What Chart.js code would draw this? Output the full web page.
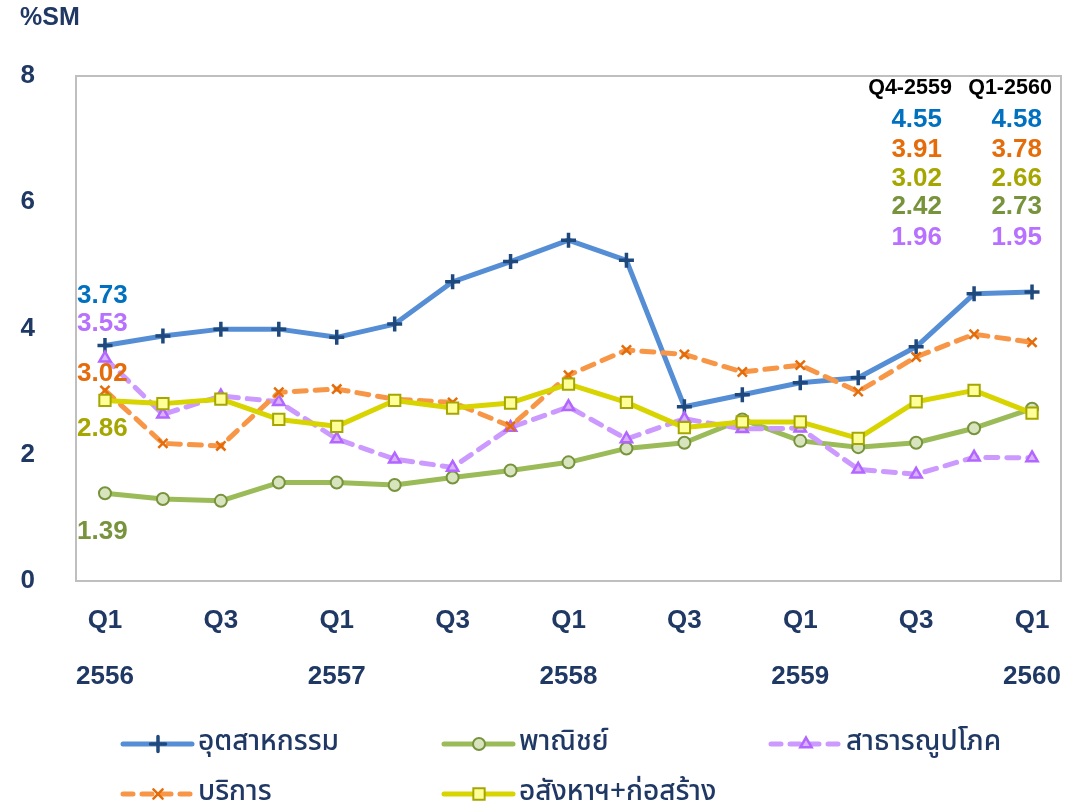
<!DOCTYPE html>
<html>
<head>
<meta charset="utf-8">
<title>%SM</title>
<script src="https://cdn.jsdelivr.net/npm/chart.js@4.4.1/dist/chart.umd.min.js"></script>
<style>
  body { margin: 0; background: #fff; }
  #wrap { width: 1091px; height: 807px; }
</style>
</head>
<body>
<div id="wrap"><canvas id="smChart" width="1091" height="807"></canvas></div>
<script>
// quarters Q1-2556 .. Q1-2560
const quarters = ['Q1','Q2','Q3','Q4','Q1','Q2','Q3','Q4','Q1','Q2','Q3','Q4','Q1','Q2','Q3','Q4','Q1'];
const years    = ['2556','','','','2557','','','','2558','','','','2559','','','','2560'];
const yTicks   = [0, 2, 4, 6, 8];

// %SM by sector
const industry  = [3.73,3.88,3.99,3.99,3.86,4.07,4.74,5.06,5.40,5.08,2.76,2.95,3.14,3.22,3.71,4.55,4.58];
const commerce  = [1.39,1.30,1.27,1.56,1.56,1.52,1.64,1.75,1.88,2.10,2.19,2.56,2.22,2.12,2.19,2.42,2.73];
const utilities = [3.53,2.64,2.93,2.84,2.25,1.93,1.80,2.43,2.76,2.25,2.57,2.41,2.42,1.77,1.69,1.96,1.95];
const services  = [3.02,2.18,2.14,2.99,3.04,2.88,2.83,2.45,3.26,3.66,3.59,3.31,3.42,3.00,3.55,3.91,3.78];
const property  = [2.86,2.81,2.88,2.56,2.45,2.86,2.74,2.82,3.12,2.83,2.43,2.52,2.52,2.26,2.84,3.02,2.66];

const tableHeads = ['Q4-2559', 'Q1-2560'];

const navy = '#1F3864';
const fontArial = "'Liberation Sans', Arial, sans-serif";
const fontThai = "'Noto Sans Thai', Tahoma, 'Noto Sans', sans-serif";

const datasets = [{
    label: 'อุตสาหกรรม', data: industry, order: 4,
    borderColor: '#558ED5', borderWidth: 5,
    pointStyle: 'cross', pointRadius: 7.5, pointBorderWidth: 3.5,
    pointBorderColor: '#1F497D', pointBackgroundColor: '#1F497D',
    textColor: '#0070C0'
  }, {
    label: 'พาณิชย์', data: commerce, order: 3,
    borderColor: '#9BBB59', borderWidth: 5,
    pointStyle: 'circle', pointRadius: 6, pointBorderWidth: 2,
    pointBorderColor: '#77933C', pointBackgroundColor: '#D7E4BD',
    textColor: '#77933C'
  }, {
    label: 'สาธารณูปโภค', data: utilities, order: 2,
    borderColor: '#CC99FF', borderWidth: 5, borderDash: [12, 9],
    pointStyle: 'triangle', pointRadius: 6.5, pointBorderWidth: 2.5,
    pointBorderColor: '#B266FF', pointBackgroundColor: '#D9B3FF',
    textColor: '#B870FF'
  }, {
    label: 'บริการ', data: services, order: 1,
    borderColor: '#F79646', borderWidth: 5, borderDash: [12, 9],
    pointStyle: 'crossRot', pointRadius: 6.5, pointBorderWidth: 2.5,
    pointBorderColor: '#E46C0A', pointBackgroundColor: '#FCD5B5',
    textColor: '#E46C0A'
  }, {
    label: 'อสังหาฯ+ก่อสร้าง', data: property, order: 0,
    borderColor: '#D8D400', borderWidth: 5,
    pointStyle: 'rect', pointRadius: 8, pointBorderWidth: 2,
    pointBorderColor: '#A6A600', pointBackgroundColor: '#FFFF99',
    textColor: '#A6A600'
  }];
datasets.forEach(d => { d.fill = false; d.tension = 0; d.borderCapStyle = 'round'; d.borderJoinStyle = 'round'; });

// frame around plot area
const framePlugin = {
  id: 'frame',
  beforeDatasetsDraw(chart) {
    const a = chart.chartArea, ctx = chart.ctx;
    ctx.save();
    ctx.strokeStyle = '#BFBFBF';
    ctx.lineWidth = 2;
    ctx.strokeRect(a.left, a.top, a.right - a.left, a.bottom - a.top);
    ctx.restore();
  }
};

// first-value labels and the small table at the top right
// offsets per dataset: industry, commerce, utilities, services, property
const labelOffsets = [-50, 39, -34, -17, 28];
const tableRows = [0, 3, 4, 1, 2];
const rowOffsets = [44, 74, 103, 131, 162];
const labelsPlugin = {
  id: 'valueLabels',
  afterDatasetsDraw(chart) {
    const ctx = chart.ctx, a = chart.chartArea;
    const ys = chart.scales.y;
    ctx.save();
    ctx.font = 'bold 26px ' + fontArial;
    ctx.textBaseline = 'middle';
    ctx.textAlign = 'left';
    chart.data.datasets.forEach((d, i) => {
      ctx.fillStyle = d.textColor;
      ctx.fillText(d.data[0].toFixed(2), a.left + 1, ys.getPixelForValue(d.data[0]) + labelOffsets[i]);
    });
    // header
    ctx.font = 'bold 21.5px ' + fontArial;
    ctx.fillStyle = '#000';
    ctx.textAlign = 'center';
    ctx.fillText(tableHeads[0], a.right - 151, a.top + 12);
    ctx.fillText(tableHeads[1], a.right - 51, a.top + 12);
    ctx.font = 'bold 26px ' + fontArial;
    ctx.textAlign = 'right';
    const n = quarters.length;
    tableRows.forEach((di, r) => {
      const d = chart.data.datasets[di];
      ctx.fillStyle = d.textColor;
      ctx.fillText(d.data[n - 2].toFixed(2), a.right - 119, a.top + rowOffsets[r]);
      ctx.fillText(d.data[n - 1].toFixed(2), a.right - 19, a.top + rowOffsets[r]);
    });
    ctx.restore();
  }
};

// legend with line + marker, laid out in a fixed grid
const legendPlugin = {
  id: 'gridLegend',
  afterDraw(chart) {
    const ctx = chart.ctx;
    const cols = [120, 441, 768];
    const rows = [744, 794];
    const lineLen = 72;
    ctx.save();
    chart.data.datasets.forEach((d, i) => {
      const x = cols[i % 3], y = rows[Math.floor(i / 3)];
      ctx.strokeStyle = d.borderColor;
      ctx.lineWidth = d.borderWidth;
      ctx.lineCap = 'round';
      ctx.setLineDash(d.borderDash ? [10, 9] : []);
      ctx.beginPath();
      ctx.moveTo(x + 3, y);
      ctx.lineTo(x + lineLen, y);
      ctx.stroke();
      ctx.setLineDash([]);
      ctx.fillStyle = d.pointBackgroundColor;
      ctx.strokeStyle = d.pointBorderColor;
      ctx.lineWidth = d.pointBorderWidth;
      Chart.helpers.drawPoint(ctx, {
        pointStyle: d.pointStyle, radius: d.pointRadius, borderWidth: d.pointBorderWidth, rotation: 0
      }, x + lineLen / 2 + 2, y);
      ctx.fillStyle = navy;
      ctx.font = '500 28px ' + fontThai;
      ctx.textAlign = 'left';
      ctx.textBaseline = 'middle';
      ctx.fillText(d.label, x + lineLen + 6, y);
    });
    ctx.restore();
  }
};

const ctx = document.getElementById('smChart').getContext('2d');
const smChart = new Chart(ctx, {
  type: 'line',
  data: { labels: quarters, datasets: datasets },
  options: {
    responsive: false,
    animation: false,
    layout: { padding: { left: 20, right: 30, top: 0, bottom: 0 } },
    plugins: {
      legend: { display: false },
      tooltip: { enabled: false },
      title: {
        display: true, text: '%SM', align: 'start', color: navy,
        font: { family: fontArial, size: 25, weight: 'bold', lineHeight: 1.2 },
        padding: { top: 3, bottom: 43 }
      }
    },
    scales: {
      x: {
        offset: true,
        grid: { display: false, drawTicks: false },
        border: { display: false },
        afterFit(scale) { scale.height = 226; },
        ticks: {
          autoSkip: false, maxRotation: 0, padding: 12, color: navy,
          font: { family: fontArial, size: 26, weight: 'bold', lineHeight: 2.15 },
          callback(value, index) {
            const q = quarters[index];
            if (q === 'Q2' || q === 'Q4') return '';
            return years[index] ? [q, years[index]] : q;
          }
        }
      },
      y: {
        min: yTicks[0], max: yTicks[yTicks.length - 1],
        grid: { display: false, drawTicks: false },
        border: { display: false },
        afterFit(scale) { scale.width = 56; },
        afterBuildTicks(scale) { scale.ticks = yTicks.map(v => ({ value: v })); },
        ticks: {
          padding: 41, color: navy,
          font: { family: fontArial, size: 26, weight: 'bold' }
        }
      }
    }
  },
  plugins: [framePlugin, labelsPlugin, legendPlugin]
});
</script>
</body>
</html>
